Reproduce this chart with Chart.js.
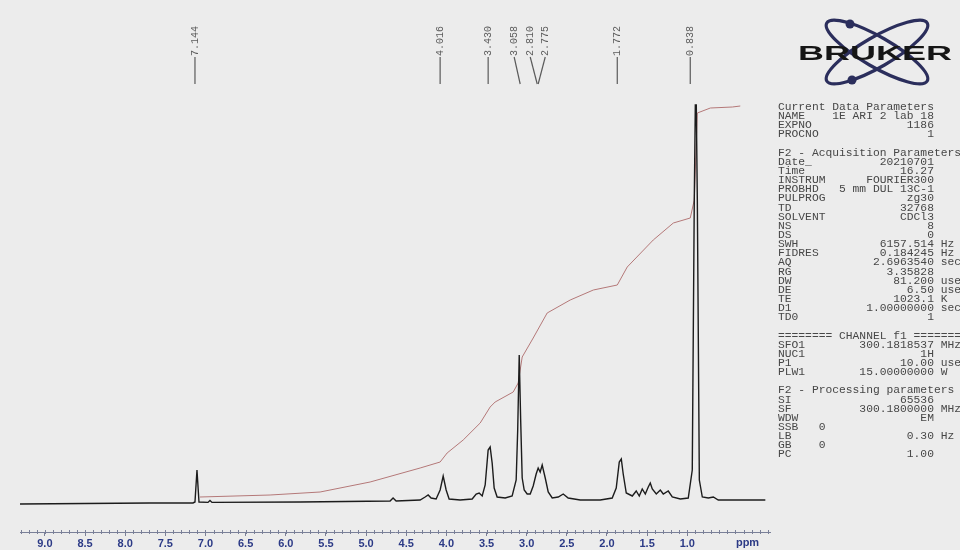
<!DOCTYPE html>
<html>
<head>
<meta charset="utf-8">
<title>1H NMR spectrum</title>
<script src="https://cdn.jsdelivr.net/npm/chart.js@4.4.1/dist/chart.umd.min.js"></script>
<style>
  body { margin: 0; background: #ececec; }
  #wrap { position: relative; width: 960px; height: 550px; overflow: hidden; background: #ececec; }
  #nmr { position: absolute; left: 0; top: 0; }
  #params { position: absolute; left: 778px; top: 103px; margin: 0; font: 11.3px 'Liberation Mono', monospace;
            line-height: 9.14px; color: #474747; white-space: pre; }
  #logo { position: absolute; left: 790px; top: 10px; }
</style>
</head>
<body>
<div id="wrap">
  <canvas id="nmr" width="960" height="550"></canvas>
  <svg id="logo" width="170" height="80" viewBox="0 0 170 80">
    <g fill="none" stroke="#2b2e5c" stroke-width="3.2">
      <ellipse cx="87" cy="42" rx="58" ry="15" transform="rotate(30 87 42)"/>
      <ellipse cx="87" cy="42" rx="58" ry="15" transform="rotate(-30 87 42)"/>
    </g>
    <circle cx="60" cy="14" r="4.5" fill="#2b2e5c"/>
    <circle cx="62" cy="70" r="4.5" fill="#2b2e5c"/>
    <text x="8" y="50" textLength="154" lengthAdjust="spacingAndGlyphs" font-family="Liberation Sans, Arial"
          font-weight="bold" font-size="20" fill="#161616">BRUKER</text>
  </svg>
  <pre id="params"></pre>
</div>
<script>
// x axis (ppm)
const ppmTicks = [9.0, 8.5, 8.0, 7.5, 7.0, 6.5, 6.0, 5.5, 5.0, 4.5, 4.0, 3.5, 3.0, 2.5, 2.0, 1.5, 1.0];

// spectrum trace (ppm, intensity)
const specPpm = [9.312, 7.692, 7.156, 7.131, 7.106, 7.081, 6.969, 6.944, 6.919, 5.822,
  4.701, 4.664, 4.626, 4.327, 4.265, 4.227, 4.190, 4.128, 4.078, 4.040, 4.003, 3.966,
  3.829, 3.679, 3.629, 3.592, 3.554, 3.517, 3.480, 3.455, 3.430, 3.405, 3.368, 3.268,
  3.181, 3.131, 3.112, 3.093, 3.075, 3.056, 3.031, 2.994, 2.956, 2.919, 2.882, 2.857,
  2.832, 2.807, 2.769, 2.732, 2.682, 2.607, 2.545, 2.483, 2.333, 2.084, 1.935, 1.885,
  1.847, 1.822, 1.798, 1.760, 1.685, 1.636, 1.598, 1.561, 1.523, 1.486, 1.461, 1.436,
  1.386, 1.336, 1.299, 1.237, 1.187, 1.087, 0.988, 0.938, 0.913, 0.900, 0.888, 0.875,
  0.850, 0.813, 0.738, 0.676, 0.614, 0.028];
const specInt = [-1.0, -0.75, -0.75, -0.5, 7.5, -0.5, -0.6, -0.1, -0.6, -0.5,
  -0.25, 0.5, -0.25, 0, 0.75, 1.25, 0.5, 0.25, 2.5, 6.0, 2.5, 0.25,
  0, 0.25, 1.5, 1.75, 1.0, 3.75, 12.5, 13.25, 9.25, 3.0, 0.75, 0.5,
  1.0, 5.0, 17.5, 36.25, 20, 5.5, 2.5, 1.5, 1.5, 3.5, 6.5, 8.0,
  7.0, 8.75, 5.5, 2.0, 0.5, 0.75, 1.5, 0.5, 0, 0, 0.5, 3.0,
  9.5, 10.25, 6.5, 1.75, 1.0, 2.25, 1.0, 2.75, 1.5, 3.25, 4.25, 2.75,
  1.5, 2.5, 1.5, 2.25, 0.75, 0.25, 0.5, 7.5, 75, 98.75, 98.75, 75,
  5, 0.75, 0.5, 0.75, 0, 0];

// integral curve
const intPpm = [7.069, 6.196, 5.573, 4.950, 4.327, 4.078, 3.991, 3.791, 3.579, 3.455,
  3.393, 3.168, 3.106, 3.056, 2.919, 2.745, 2.458, 2.170, 1.872, 1.748, 1.424, 1.174,
  0.963, 0.913, 0.875, 0.713, 0.439, 0.340];
const intVal = [0.75, 1.25, 2.0, 4.5, 8.0, 9.5, 11.75, 15.0, 19.25, 23.25,
  24.5, 27.0, 29.25, 35.75, 40.5, 46.75, 50.0, 52.5, 53.75, 58.25, 65.0, 69.25,
  70.5, 75.0, 96.75, 98.0, 98.25, 98.5];

// peak picking labels
const peakLabels = ['7.144', '4.016', '3.430', '3.058', '2.810', '2.775', '1.772', '0.838'];
const peakLabelPpm = [7.131, 4.078, 3.480, 3.156, 2.956, 2.769, 1.872, 0.963];
const peakLeaderPpm = [7.131, 4.078, 3.480, 3.081, 2.869, 2.857, 1.872, 0.963];

// parameter listing
const paramRows = [
  ['Current Data Parameters'],
  ['NAME', '1E ARI 2 lab 18'],
  ['EXPNO', '1186'],
  ['PROCNO', '1'],
  [''],
  ['F2 - Acquisition Parameters'],
  ['Date_', '20210701'],
  ['Time', '16.27'],
  ['INSTRUM', 'FOURIER300'],
  ['PROBHD', '5 mm DUL 13C-1'],
  ['PULPROG', 'zg30'],
  ['TD', '32768'],
  ['SOLVENT', 'CDCl3'],
  ['NS', '8'],
  ['DS', '0'],
  ['SWH', '6157.514', 'Hz'],
  ['FIDRES', '0.184245', 'Hz'],
  ['AQ', '2.6963540', 'sec'],
  ['RG', '3.35828'],
  ['DW', '81.200', 'usec'],
  ['DE', '6.50', 'usec'],
  ['TE', '1023.1', 'K'],
  ['D1', '1.00000000', 'sec'],
  ['TD0', '1'],
  [''],
  ['======== CHANNEL f1 ========'],
  ['SFO1', '300.1818537', 'MHz'],
  ['NUC1', '1H'],
  ['P1', '10.00', 'usec'],
  ['PLW1', '15.00000000', 'W'],
  [''],
  ['F2 - Processing parameters'],
  ['SI', '65536'],
  ['SF', '300.1800000', 'MHz'],
  ['WDW', 'EM'],
  ['SSB   0'],
  ['LB', '0.30', 'Hz'],
  ['GB    0'],
  ['PC', '1.00']
];

document.getElementById('params').textContent = paramRows.map(r => {
  if (r.length === 1) return r[0];
  let line = r[0].padEnd(8) + r[1].padStart(15);
  if (r[2]) line += ' ' + r[2];
  return line;
}).join('\n');

const axisColor = '#7a8098';
const tickColor = '#2c3a86';

const nmrDecor = {
  id: 'nmrDecor',
  afterDraw(chart) {
    const ctx = chart.ctx, xs = chart.scales.x, area = chart.chartArea;
    ctx.save();
    // minor ticks every 0.1 ppm
    ctx.strokeStyle = axisColor;
    ctx.lineWidth = 1;
    for (let k = 0; k <= 93; k++) {
      const px = Math.round(xs.getPixelForValue(k / 10)) + 0.5;
      ctx.beginPath();
      ctx.moveTo(px, area.bottom - 2);
      ctx.lineTo(px, area.bottom + 2);
      ctx.stroke();
    }
    // unit label
    ctx.fillStyle = tickColor;
    ctx.font = 'bold 11px "Liberation Sans", Arial';
    ctx.textAlign = 'center';
    ctx.textBaseline = 'top';
    ctx.fillText('ppm', xs.getPixelForValue(0.25), area.bottom + 5);

    // peak labels, rotated, with leader lines
    ctx.font = '10px "Liberation Mono", monospace';
    ctx.fillStyle = '#5c5c5c';
    ctx.strokeStyle = '#5a5a5a';
    ctx.lineWidth = 1.2;
    peakLabels.forEach((t, i) => {
      const lx = xs.getPixelForValue(peakLabelPpm[i]);
      const ex = xs.getPixelForValue(peakLeaderPpm[i]);
      ctx.save();
      ctx.translate(lx, 56);
      ctx.rotate(-Math.PI / 2);
      ctx.textAlign = 'left';
      ctx.textBaseline = 'middle';
      ctx.fillText(t, 0, 0);
      ctx.restore();
      ctx.beginPath();
      ctx.moveTo(lx, 57);
      ctx.lineTo(ex, 84);
      ctx.stroke();
    });
    ctx.restore();
  }
};

new Chart(document.getElementById('nmr'), {
  type: 'line',
  data: {
    datasets: [
      {
        label: 'Spectrum',
        data: specPpm.map((x, i) => ({ x, y: specInt[i] })),
        borderColor: '#1c1c1c',
        borderWidth: 1.4,
        pointRadius: 0,
        tension: 0
      },
      {
        label: 'Integral',
        data: intPpm.map((x, i) => ({ x, y: intVal[i] })),
        borderColor: '#b47878',
        borderWidth: 1,
        pointRadius: 0,
        tension: 0
      }
    ]
  },
  options: {
    responsive: false,
    animation: false,
    layout: { padding: { left: 20, right: 190, top: 20, bottom: 0 } },
    plugins: { legend: { display: false }, tooltip: { enabled: false } },
    scales: {
      x: {
        type: 'linear',
        reverse: true,
        min: -0.03,
        max: 9.31,
        afterBuildTicks: s => { s.ticks = ppmTicks.map(v => ({ value: v })); },
        afterFit: s => { s.height = 18; },
        ticks: {
          color: tickColor,
          font: { family: '"Liberation Sans", Arial', size: 11, weight: 'bold' },
          padding: 1,
          maxRotation: 0,
          autoSkip: false,
          callback: v => Number(v).toFixed(1)
        },
        grid: { drawOnChartArea: false, drawTicks: true, tickLength: 4, color: axisColor },
        border: { color: axisColor, width: 1 }
      },
      y: { display: false, min: -8, max: 120 }
    }
  },
  plugins: [nmrDecor]
});
</script>
</body>
</html>
